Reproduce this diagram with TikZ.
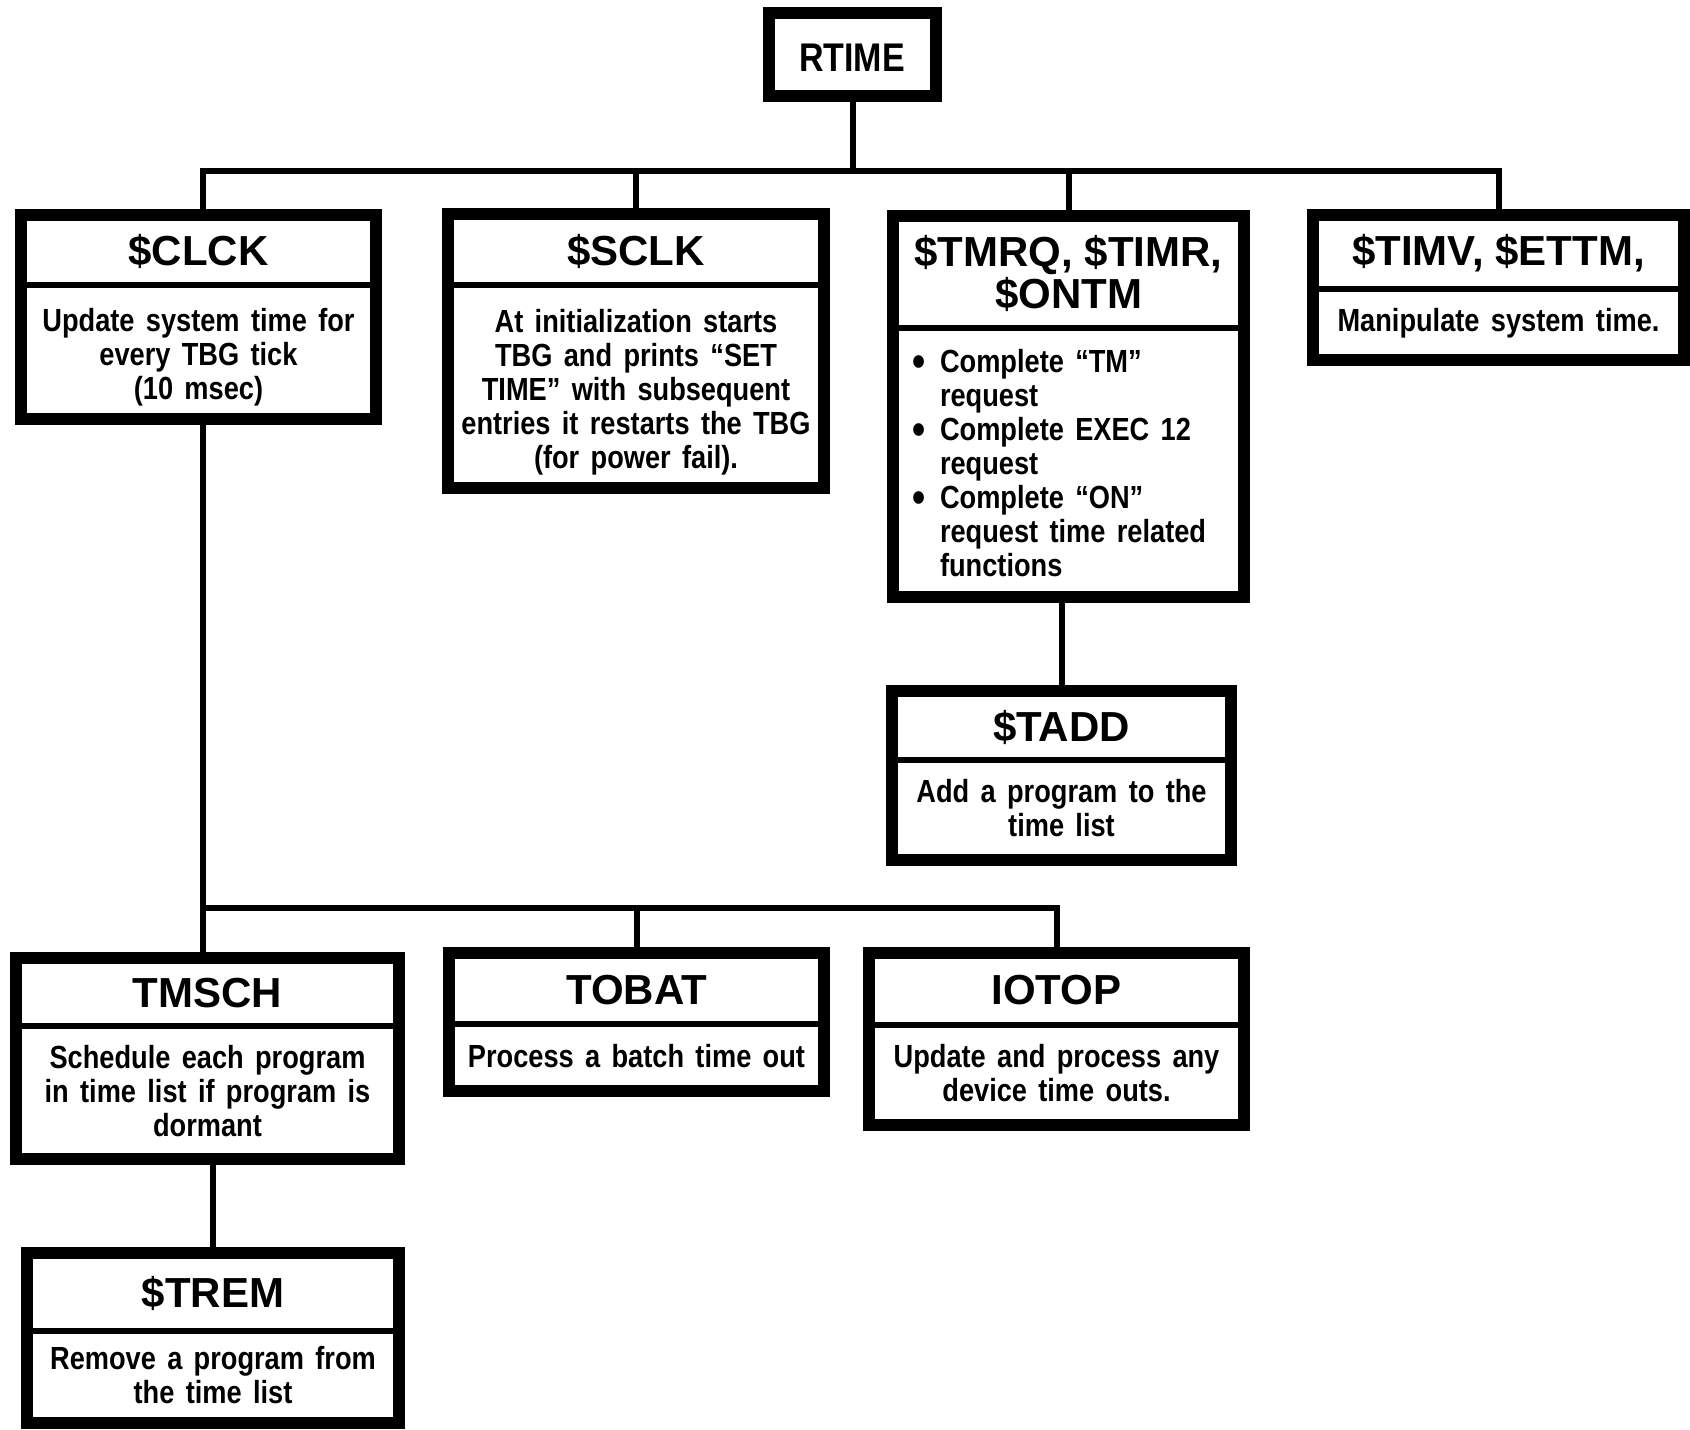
\documentclass[tikz,border=0pt]{standalone}
\usepackage{fontspec}
\setmainfont{Liberation Sans}
\newfontfamily\tfont{Liberation Sans}
\newfontfamily\bfont{Liberation Sans}[FakeStretch=0.85,WordSpace=1.5]
\usetikzlibrary{fit}
\tikzset{
  x=0.5pt, y=-0.5pt,
  frame/.style={fill=black, inner sep=0pt, draw=none},
  conn/.style={line width=3pt, black},
  titletext/.style={font=\tfont\bfseries\fontsize{21}{21}\selectfont, align=center, inner sep=0pt},
  bodytext/.style={font=\bfont\bfseries\fontsize{16}{17}\selectfont, align=center, inner sep=0pt},
}
\newcommand\bigbul{\raisebox{-1.6pt}{\fontsize{22}{17}\selectfont\textbullet}}
% #1 extra body options, #2 name, #3 x1, #4 y1, #5 x2, #6 y2, #7 bottom of title area, #8 title, #9 body
\newcommand\tbox[9][]{%
  \node[frame, fit={(#3,#4) (#5,#6)}] (#2) {};
  \fill[white] (#3+12,#4+12) rectangle (#5-12,#7);
  \fill[white] (#3+12,#7+6) rectangle (#5-12,#6-12);
  \node[titletext] (#2-t) at ({(#3+#5)/2},{(#4+12+#7)/2}) {\vphantom{\$}#8};
  \node[bodytext,#1] (#2-b) at ({(#3+#5)/2},{(#7+6+#6-12)/2}) {#9};
}
\begin{document}
\begin{tikzpicture}
\fill[white] (0,0) rectangle (1690,1429);
\useasboundingbox (0,0) rectangle (1690,1429);

% top box
\node[frame, fit={(763,7) (942,102)}] (rtime) {};
\fill[white] (775,19) rectangle (930,90);
\node[font=\bfont\bfseries\fontsize{20}{20}\selectfont, inner sep=0pt] (rtime-t) at (852,58) {RTIME};

\tbox[yshift=-3.5pt]{clck}{15}{209}{382}{425}{282}{\$CLCK}{Update system time for\\every TBG tick\\(10 msec)}
\tbox[yshift=-3.5pt]{sclk}{442}{208}{830}{494}{282}{\$SCLK}{At initialization starts\\TBG and prints “SET\\TIME” with subsequent\\entries it restarts the TBG\\(for power fail).}
\tbox[yshift=-3.5pt,xshift=-4.5pt]{tmrq}{887}{210}{1250}{603}{325}{\$TMRQ, \$TIMR,\\\$ONTM}{%
  \begin{tabular}{@{}c@{\hspace{7pt}}l@{}}
  \bigbul & Complete “TM”\\
          & request\\
  \bigbul & Complete EXEC 12\\
          & request\\
  \bigbul & Complete “ON”\\
          & request time related\\
          & functions
  \end{tabular}}
\tbox{timv}{1307}{209}{1690}{366}{286}{\$TIMV, \$ETTM,}{Manipulate system time.}
\tbox{tadd}{886}{685}{1237}{866}{757}{\$TADD}{Add a program to the\\time list}
\tbox{tmsch}{10}{952}{405}{1165}{1023}{TMSCH}{Schedule each program\\in time list if program is\\dormant}
\tbox{tobat}{443}{947}{830}{1097}{1021}{TOBAT}{Process a batch time out}
\tbox{iotop}{863}{947}{1250}{1131}{1022}{IOTOP}{Update and process any\\device time outs.}
\tbox{trem}{21}{1247}{405}{1429}{1328}{\$TREM}{Remove a program from\\the time list}

% connectors, upper level
\coordinate (bus1) at (203,171);
\draw[conn] (rtime.south) -- (rtime.south |- bus1);
\draw[conn] (bus1 |- clck.north) -- (bus1) -| (timv.north);
\draw[conn] (sclk.north) -- (sclk.north |- bus1);
\draw[conn] (tmrq.north) -- (tmrq.north |- bus1);
\draw[conn] (tadd.north) -- (tadd.north |- tmrq.south);

% connectors, lower level
\coordinate (bus2) at (203,908);
\draw[conn] (bus2 |- clck.south) -- (bus2 |- tmsch.north);
\draw[conn] (bus2) -| (iotop.north);
\draw[conn] (tobat.north) -- (tobat.north |- bus2);
\draw[conn] (trem.north) -- (trem.north |- tmsch.south);
\end{tikzpicture}
\end{document}
